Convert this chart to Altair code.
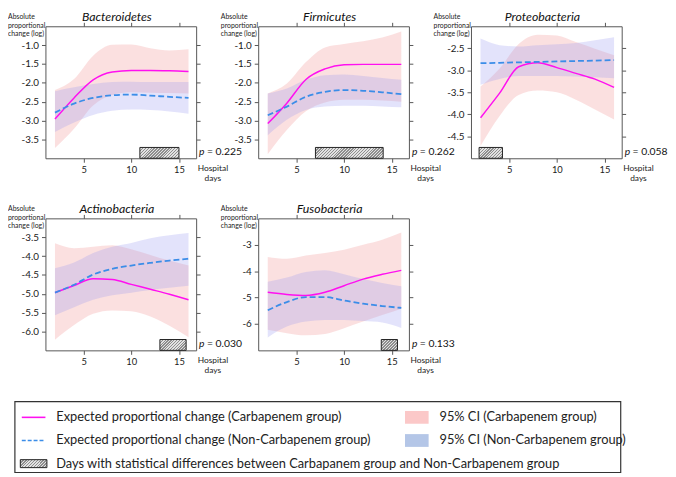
import altair as alt
import pandas as pd

# ---------------- data ----------------
days = [2, 4, 6, 8, 10, 12, 14, 16]

panel_names = ["Bacteroidetes", "Firmicutes", "Proteobacteria", "Actinobacteria", "Fusobacteria"]
p_values = ["0.225", "0.262", "0.058", "0.030", "0.133"]

# Bacteroidetes
bac_carb = [-2.96, -2.40, -1.92, -1.71, -1.67, -1.67, -1.68, -1.70]
bac_non = [-2.79, -2.55, -2.40, -2.33, -2.31, -2.34, -2.37, -2.40]
bac_carb_lo = [-3.73, -3.22, -2.60, -2.32, -2.25, -2.26, -2.27, -2.28]
bac_carb_hi = [-2.19, -1.90, -1.28, -0.99, -0.98, -1.08, -1.14, -1.11]
bac_non_lo = [-3.30, -3.05, -2.85, -2.74, -2.71, -2.72, -2.76, -2.82]
bac_non_hi = [-2.22, -2.12, -2.03, -1.98, -1.97, -1.98, -1.98, -1.98]

# Firmicutes
fir_carb = [-3.08, -2.54, -1.91, -1.63, -1.52, -1.51, -1.51, -1.51]
fir_non = [-2.86, -2.63, -2.37, -2.24, -2.19, -2.21, -2.25, -2.30]
fir_carb_lo = [-3.89, -3.25, -2.75, -2.52, -2.45, -2.45, -2.47, -2.50]
fir_carb_hi = [-2.28, -2.02, -1.45, -1.06, -0.97, -0.90, -0.80, -0.64]
fir_non_lo = [-3.39, -2.98, -2.72, -2.63, -2.61, -2.61, -2.63, -2.65]
fir_non_hi = [-2.28, -2.15, -1.92, -1.80, -1.78, -1.82, -1.87, -1.92]

# Proteobacteria
pro_carb = [-4.08, -3.52, -2.92, -2.83, -2.94, -3.07, -3.20, -3.39]
pro_non = [-2.84, -2.83, -2.82, -2.81, -2.80, -2.79, -2.78, -2.77]
pro_carb_lo = [-4.72, -4.04, -3.56, -3.46, -3.50, -3.67, -3.89, -4.12]
pro_carb_hi = [-3.37, -2.96, -2.40, -2.19, -2.21, -2.36, -2.51, -2.66]
pro_non_lo = [-3.33, -3.20, -3.13, -3.13, -3.13, -3.14, -3.16, -3.18]
pro_non_hi = [-2.28, -2.43, -2.46, -2.43, -2.41, -2.38, -2.32, -2.25]

# Actinobacteria
act_carb = [-4.97, -4.78, -4.60, -4.62, -4.75, -4.88, -5.01, -5.16]
act_non = [-4.97, -4.76, -4.49, -4.34, -4.25, -4.18, -4.12, -4.07]
act_carb_lo = [-6.22, -5.83, -5.53, -5.44, -5.46, -5.60, -5.85, -6.15]
act_carb_hi = [-3.66, -3.79, -3.75, -3.71, -3.82, -3.97, -4.12, -4.25]
act_non_lo = [-5.57, -5.36, -5.16, -5.04, -4.97, -4.90, -4.84, -4.79]
act_non_hi = [-4.32, -4.17, -3.92, -3.75, -3.65, -3.53, -3.45, -3.39]

# Fusobacteria
fus_carb = [-4.80, -4.88, -4.92, -4.80, -4.55, -4.30, -4.12, -3.97]
fus_non = [-5.48, -5.17, -4.98, -4.98, -5.11, -5.23, -5.32, -5.39]
fus_carb_lo = [-6.22, -6.35, -6.43, -6.38, -6.16, -5.91, -5.66, -5.42]
fus_carb_hi = [-3.46, -3.53, -3.41, -3.31, -3.19, -3.00, -2.81, -2.54]
fus_non_lo = [-6.51, -6.10, -5.91, -5.85, -5.85, -5.89, -5.94, -6.15]
fus_non_hi = [-4.40, -4.24, -4.03, -3.97, -4.12, -4.30, -4.45, -4.57]

# days with statistical differences (hatched boxes)
hatch_start = [10.9, 7.0, 1.85, 13.0, 13.9]
hatch_end = [15.0, 14.1, 4.3, 15.75, 15.6]

y_domains = [[-4.0, -0.5], [-4.0, -0.5], [-5.0, -2.0], [-6.5, -3.0], [-7.0, -2.0]]
y_ticks = [
    [-3.5, -3.0, -2.5, -2.0, -1.5, -1.0],
    [-3.5, -3.0, -2.5, -2.0, -1.5, -1.0],
    [-4.5, -4.0, -3.5, -3.0, -2.5],
    [-6.0, -5.5, -5.0, -4.5, -4.0, -3.5],
    [-6, -5, -4, -3],
]
y_formats = [".1f", ".1f", ".1f", ".1f", "d"]
x_ticks = [5, 10, 15]
x_domain = [1, 16.8]

Y_TITLE = "Absolute\nproportional\nchange (log)"
X_TITLE = "Hospital\ndays"

legend_labels = [
    "Expected proportional change (Carbapenem group)",
    "95% CI (Carbapenem group)",
    "Expected proportional change (Non-Carbapenem group)",
    "95% CI (Non-Carbapenem group)",
    "Days with statistical differences between Carbapanem group and Non-Carbapenem group",
]
legend_kind = ["carb_line", "carb_ci", "non_line", "non_ci", "hatch"]
legend_row = [0, 0, 1, 1, 2]
legend_col = [0, 1, 0, 1, 0]

series = [
    (bac_carb, bac_non, bac_carb_lo, bac_carb_hi, bac_non_lo, bac_non_hi),
    (fir_carb, fir_non, fir_carb_lo, fir_carb_hi, fir_non_lo, fir_non_hi),
    (pro_carb, pro_non, pro_carb_lo, pro_carb_hi, pro_non_lo, pro_non_hi),
    (act_carb, act_non, act_carb_lo, act_carb_hi, act_non_lo, act_non_hi),
    (fus_carb, fus_non, fus_carb_lo, fus_carb_hi, fus_non_lo, fus_non_hi),
]

# ---------------- style ----------------
FONT = "Lato"
FRAME = "#555555"
PINK = "#f4a0a0"
BLUE = "#9a9cf0"
MAGENTA = "#ff10f0"
DBLUE = "#3b8de8"
W, H = 153, 134
HATCH_H = 11


def hatch_fill(w, h, period=3.0, dark="#8e8e8e", light="#e2e2e2"):
    """Fine diagonal stripes as a linear gradient (styling only)."""
    k = h / w
    a = (1 + k) / (1 + k * k)
    n = max(4, int(round((w + h) / period)))
    stops = []
    for j in range(n):
        o0 = j / n
        o1 = (j + 0.45) / n
        o2 = (j + 1) / n
        stops += [alt.GradientStop(offset=o0, color=dark),
                  alt.GradientStop(offset=o1, color=dark),
                  alt.GradientStop(offset=o1, color=light),
                  alt.GradientStop(offset=min(o2, 1.0), color=light)]
    return alt.LinearGradient(gradient="linear", stops=stops, x1=0, y1=0, x2=a, y2=a * k)


def make_panel(i):
    carb, non, clo, chi, nlo, nhi = series[i]
    df = pd.DataFrame({"day": days, "carb": carb, "non": non,
                       "carb_lo": clo, "carb_hi": chi, "non_lo": nlo, "non_hi": nhi})
    hdf = pd.DataFrame({"start": [hatch_start[i]], "end": [hatch_end[i]]})
    annot = pd.DataFrame({"name": [panel_names[i]], "pi": ["p"], "pv": ["= " + p_values[i]],
                          "ylab": [Y_TITLE], "xlab": [X_TITLE]})

    xs = alt.Scale(domain=x_domain, nice=False, zero=False)
    ys = alt.Scale(domain=y_domains[i], nice=False, zero=False)
    common = dict(grid=False, title=None, domainColor=FRAME, tickColor=FRAME, tickSize=4,
                  labelFont=FONT, labelColor="#1a1a1a")
    x_bottom = alt.Axis(orient="bottom", values=x_ticks, labelFontSize=9.5, labelPadding=2, **common)
    x_top = alt.Axis(orient="top", values=x_ticks, labels=False, **common)
    y_left = alt.Axis(orient="left", values=y_ticks[i], format=y_formats[i],
                      labelExpr="replace(datum.label, '\u2212', '-')",
                      labelFontSize=10, labelPadding=3, **common)
    y_right = alt.Axis(orient="right", values=y_ticks[i], labels=False, **common)

    base = alt.Chart(df)
    pink = base.mark_area(color=PINK, opacity=0.32, interpolate="monotone").encode(
        x=alt.X("day:Q", scale=xs, axis=x_bottom),
        y=alt.Y("carb_lo:Q", scale=ys, axis=y_left),
        y2="carb_hi:Q",
    )
    blue = base.mark_area(color=BLUE, opacity=0.28, interpolate="monotone").encode(
        x=alt.X("day:Q", scale=xs, axis=x_top),
        y=alt.Y("non_lo:Q", scale=ys, axis=y_right),
        y2="non_hi:Q",
    )
    hw = (hatch_end[i] - hatch_start[i]) / (x_domain[1] - x_domain[0]) * W
    hatch = alt.Chart(hdf).mark_rect(fill=hatch_fill(hw, HATCH_H), stroke="#222222", strokeWidth=1).encode(
        x=alt.X("start:Q", scale=xs, axis=None),
        x2="end:Q",
        y=alt.value(H - HATCH_H),
        y2=alt.value(H),
    )
    carb_line = base.mark_line(color=MAGENTA, strokeWidth=1.5, interpolate="monotone").encode(
        x=alt.X("day:Q", scale=xs, axis=None),
        y=alt.Y("carb:Q", scale=ys, axis=None),
    )
    non_line = base.mark_line(color=DBLUE, strokeWidth=1.8, strokeDash=[6, 3],
                              interpolate="monotone").encode(
        x=alt.X("day:Q", scale=xs, axis=None),
        y=alt.Y("non:Q", scale=ys, axis=None),
    )
    ab = alt.Chart(annot)
    title = ab.mark_text(font=FONT, fontSize=12.5, fontStyle="italic", align="center",
                         baseline="alphabetic", color="#111111").encode(
        text="name:N", x=alt.value(W / 2 - 4), y=alt.value(-5))
    ylab = ab.mark_text(font=FONT, fontSize=7, align="left", baseline="alphabetic",
                        lineBreak="\n", lineHeight=8.5, color="#222222").encode(
        text="ylab:N", x=alt.value(-38), y=alt.value(-7))
    xlab = ab.mark_text(font=FONT, fontSize=8.5, align="center", baseline="alphabetic",
                        lineBreak="\n", lineHeight=10.5, color="#222222").encode(
        text="xlab:N", x=alt.value(W + 17), y=alt.value(H + 13))
    p_it = ab.mark_text(font=FONT, fontSize=10.5, fontStyle="italic", align="left",
                        baseline="alphabetic", color="#111111").encode(
        text="pi:N", x=alt.value(W + 3), y=alt.value(H - 3))
    p_val = ab.mark_text(font=FONT, fontSize=10.5, align="left", baseline="alphabetic",
                         color="#111111").encode(
        text="pv:N", x=alt.value(W + 11), y=alt.value(H - 3))

    return alt.layer(pink, blue, hatch, carb_line, non_line, title, ylab, xlab, p_it, p_val).properties(
        width=W, height=H
    ).resolve_axis(x="independent", y="independent")


panels = [make_panel(i) for i in range(5)]

blank = alt.Chart(pd.DataFrame({"v": [0]})).mark_point(opacity=0).properties(width=1, height=1)

# ---------------- legend ----------------
leg_df = pd.DataFrame({"label": legend_labels, "kind": legend_kind, "row": legend_row, "col": legend_col})
lx = alt.X("col:Q", scale=alt.Scale(domain=[0, 1], range=[-12, 377]), axis=None)
ly = alt.Y("row:Q", scale=alt.Scale(domain=[0, 2], range=[7, 54]), axis=None)
lb = alt.Chart(leg_df)
LH = 52
BOX_TOP, BOX_BOTTOM = -9, 63

box = alt.Chart(pd.DataFrame({"b": [0]})).mark_rect(fill="white", stroke="#333333", strokeWidth=1.2).encode(
    x=alt.value(-31), x2=alt.value(584), y=alt.value(BOX_TOP), y2=alt.value(BOX_BOTTOM))
sw_carb = lb.transform_filter("datum.kind == 'carb_line'").mark_point(
    shape="M-1,0L1,0", size=576, filled=False, color=MAGENTA, strokeWidth=1.6, opacity=1).encode(x=lx, y=ly)
sw_non = lb.transform_filter("datum.kind == 'non_line'").mark_point(
    shape="M-1,0L1,0", size=576, filled=False, color=DBLUE, strokeWidth=1.6, strokeDash=[4, 2],
    opacity=1).encode(x=lx, y=ly)
sw_cci = lb.transform_filter("datum.kind == 'carb_ci'").mark_point(
    shape="M-1,-0.54L1,-0.54L1,0.54L-1,0.54Z", size=576, filled=True, color="#fbc8c8",
    opacity=1).encode(x=lx, y=ly)
sw_nci = lb.transform_filter("datum.kind == 'non_ci'").mark_point(
    shape="M-1,-0.54L1,-0.54L1,0.54L-1,0.54Z", size=576, filled=True, color="#b4c6e7",
    opacity=1).encode(x=lx, y=ly)
sw_hat = lb.transform_filter("datum.kind == 'hatch'").mark_point(
    shape="M-1,-0.3L1,-0.3L1,0.3L-1,0.3Z", size=729, filled=True, fill=hatch_fill(27, 8),
    stroke="#222222", strokeWidth=1, opacity=1).encode(x=lx, y=ly)
ltxt = lb.mark_text(font=FONT, fontSize=13, align="left", baseline="middle", dx=23,
                    color="#222222").encode(x=lx, y=ly, text="label:N")

legend = alt.layer(box, sw_carb, sw_non, sw_cci, sw_nci, sw_hat, ltxt).properties(width=W, height=LH)

chart = alt.concat(
    *panels, blank, legend,
    columns=3,
    spacing={"row": 61, "column": 63},
    bounds="flush",
).properties(padding=0).configure_view(strokeWidth=0)

chart.save("out.html", embed_options={"renderer": "svg", "actions": False})
